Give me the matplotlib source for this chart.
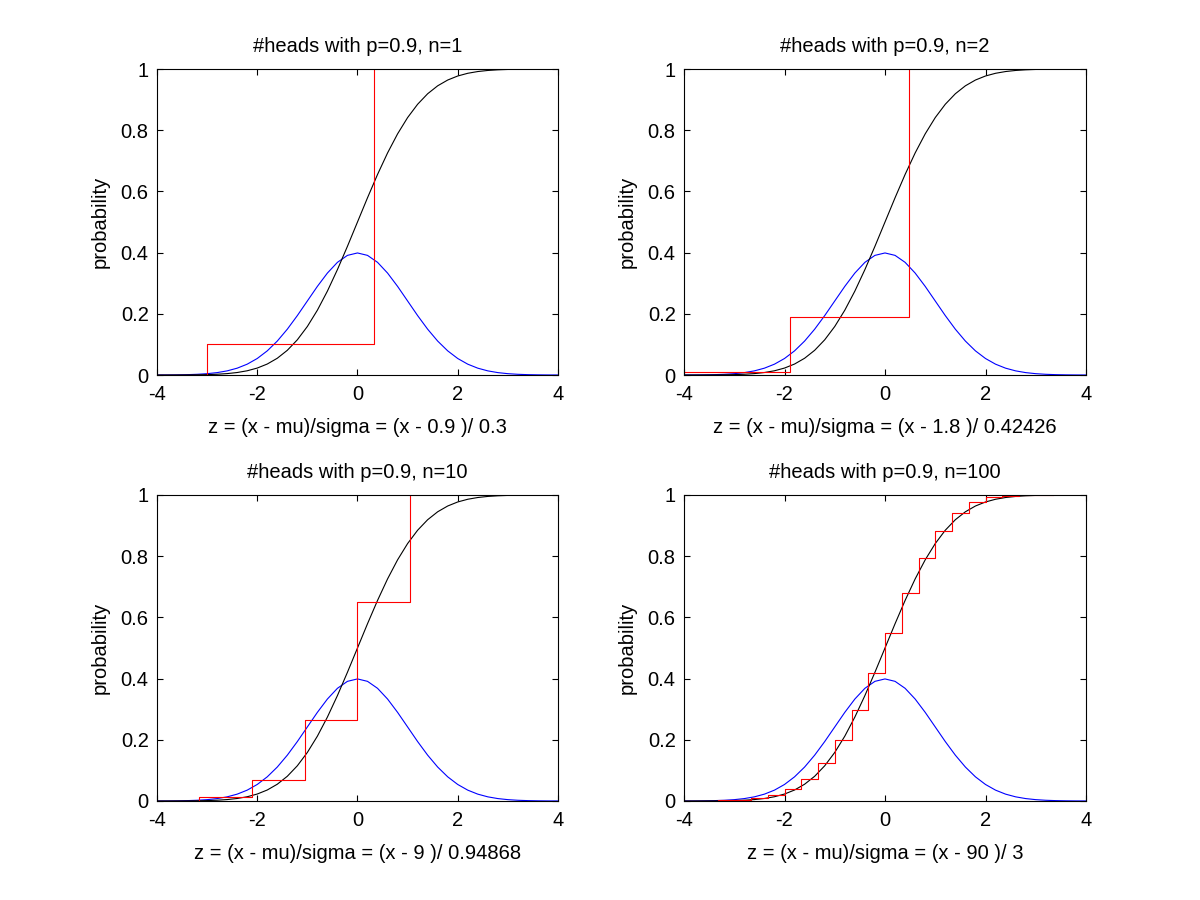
import numpy as np
import matplotlib
matplotlib.use("Agg")
import matplotlib.pyplot as plt

plt.rcParams["font.family"] = ["Liberation Sans", "DejaVu Sans"]
plt.rcParams["axes.unicode_minus"] = False

# normal curves, read at z = -4 .. 4 step 0.2
z_grid = np.linspace(-4, 4, 41)
norm_pdf = [0.000134, 0.000292, 0.000612, 0.001232, 0.002384, 0.004432, 0.007915,
            0.013583, 0.022395, 0.035475, 0.053991, 0.078950, 0.110921, 0.149727,
            0.194186, 0.241971, 0.289692, 0.333225, 0.368270, 0.391043, 0.398942,
            0.391043, 0.368270, 0.333225, 0.289692, 0.241971, 0.194186, 0.149727,
            0.110921, 0.078950, 0.053991, 0.035475, 0.022395, 0.013583, 0.007915,
            0.004432, 0.002384, 0.001232, 0.000612, 0.000292, 0.000134]
norm_cdf = [0.000032, 0.000072, 0.000159, 0.000337, 0.000687, 0.001350, 0.002555,
            0.004661, 0.008198, 0.013903, 0.022750, 0.035930, 0.054799, 0.080757,
            0.115070, 0.158655, 0.211855, 0.274253, 0.344578, 0.420740, 0.5,
            0.579260, 0.655422, 0.725747, 0.788145, 0.841345, 0.884930, 0.919243,
            0.945201, 0.964070, 0.977250, 0.986097, 0.991802, 0.995339, 0.997445,
            0.998650, 0.999313, 0.999663, 0.999841, 0.999928, 0.999968]

# binomial cdf (#heads, p=0.9) for each n
n_vals = [1, 2, 10, 100]
mu_vals = [0.9, 1.8, 9, 90]
sigma_vals = [0.3, 0.42426, 0.94868, 3]
sigma_text = ["0.3", "0.42426", "0.94868", "3"]
mu_text = ["0.9", "1.8", "9", "90"]

k_n1 = [-1, 0, 1]
cdf_n1 = [0, 0.1, 1]
k_n2 = [-1, 0, 1, 2]
cdf_n2 = [0, 0.01, 0.19, 1]
k_n10 = [4, 5, 6, 7, 8, 9, 10]
cdf_n10 = [0.00015, 0.0016, 0.0128, 0.0702, 0.2639, 0.6513, 1]
k_n100 = list(range(77, 101))
cdf_n100 = [0.00012, 0.00032, 0.00081, 0.00198, 0.00458, 0.01001, 0.02060, 0.03989,
            0.07257, 0.12388, 0.19818, 0.29697, 0.41685, 0.54871, 0.67913, 0.79395,
            0.88284, 0.94242, 0.97629, 0.99216, 0.99806, 0.99968, 0.99997, 1]

k_list = [k_n1, k_n2, k_n10, k_n100]
cdf_list = [cdf_n1, cdf_n2, cdf_n10, cdf_n100]

fig = plt.figure(figsize=(12, 9), dpi=100)
positions = [[0.1308, 0.5833, 0.3342, 0.34],
             [0.57, 0.5833, 0.335, 0.34],
             [0.1308, 0.11, 0.3342, 0.34],
             [0.57, 0.11, 0.335, 0.34]]

fs = 14.5
for i in range(4):
    ax = fig.add_axes(positions[i])
    z_steps = (np.array(k_list[i]) - mu_vals[i]) / sigma_vals[i]
    ax.plot(z_grid, norm_pdf, color="#0000ff", lw=0.8)
    ax.plot(z_grid, norm_cdf, color="black", lw=0.8)
    ax.step(z_steps, cdf_list[i], where="post", color="#ff0000", lw=0.8)
    ax.set_xlim(-4, 4)
    ax.set_ylim(0, 1)
    ax.set_xticks([-4, -2, 0, 2, 4])
    ax.set_xticklabels(["-4", "-2", "0", "2", "4"])
    ax.set_yticks([0, 0.2, 0.4, 0.6, 0.8, 1])
    ax.set_yticklabels(["0", "0.2", "0.4", "0.6", "0.8", "1"])
    ax.tick_params(direction="in", length=4, width=0.8, labelsize=fs,
                   top=True, right=True)
    ax.tick_params(axis="x", pad=7)
    ax.tick_params(axis="y", pad=6)
    for s in ax.spines.values():
        s.set_linewidth(0.8)
    ax.set_title("#heads with p=0.9, n=%d" % n_vals[i], fontsize=fs, pad=12)
    ax.set_xlabel("z = (x - mu)/sigma = (x - %s )/ %s" % (mu_text[i], sigma_text[i]),
                  fontsize=fs, labelpad=10)
    ax.set_ylabel("probability", fontsize=fs, labelpad=8)

fig.savefig("out.png", dpi=100)
